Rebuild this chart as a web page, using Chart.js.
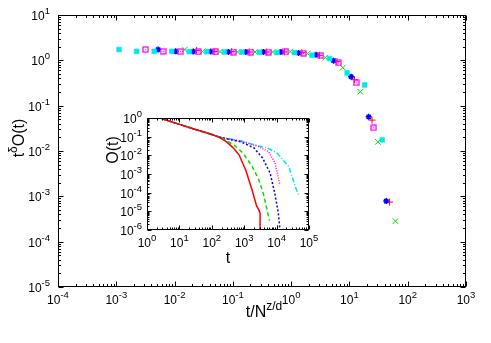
<!DOCTYPE html>
<html>
<head>
<meta charset="utf-8">
<script src="https://cdn.jsdelivr.net/npm/chart.js@4.4.1/dist/chart.umd.min.js"></script>
<style>
  html, body { margin: 0; padding: 0; background: #fff; }
  #wrap { position: relative; width: 491px; height: 343px; }
  #wrap canvas { position: absolute; left: 0; top: 0; }
</style>
</head>
<body>
<div id="wrap">
  <canvas id="main" width="491" height="343"></canvas>
  <canvas id="inset" width="491" height="343"></canvas>
</div>
<script>
// main panel: t^delta O(t) against t/N^(z/d), one series per system size
const redX = [0.02388, 0.04775, 0.0955, 0.191, 0.382, 0.764, 1.528, 3.055, 6.11, 12.22, 24.4, 48.9];
const redY = [1.66, 1.56, 1.56, 1.53, 1.53, 1.53, 1.48, 1.29, 0.935, 0.374, 0.048, 0.000748];
const greenX = [0.01503, 0.03006, 0.0601, 0.1202, 0.2405, 0.481, 0.962, 1.923, 3.846, 7.69, 15.38, 30.8, 61.5];
const greenY = [1.73, 1.56, 1.56, 1.53, 1.53, 1.52, 1.56, 1.41, 1.15, 0.69, 0.203, 0.0159, 0.000284];
const blueX = [0.005224, 0.01045, 0.0209, 0.0418, 0.0836, 0.1671, 0.3342, 0.668, 1.337, 2.673, 5.35, 10.69, 21.4, 42.8];
const blueY = [1.73, 1.58, 1.56, 1.56, 1.53, 1.53, 1.53, 1.53, 1.46, 1.32, 0.984, 0.435, 0.0568, 0.000787];
const magentaX = [0.003177, 0.00635, 0.0127, 0.0254, 0.0508, 0.1016, 0.2032, 0.4064, 0.8128, 1.626, 3.251, 6.5, 13.0, 26.0];
const magentaY = [1.73, 1.58, 1.56, 1.53, 1.53, 1.52, 1.52, 1.52, 1.53, 1.43, 1.27, 0.875, 0.321, 0.0325];
const cyanX = [0.001117, 0.002234, 0.004467, 0.00893, 0.01786, 0.0357, 0.0714, 0.1429, 0.2858, 0.5715, 1.143, 2.286, 4.571, 9.14, 18.28, 36.56];
const cyanY = [1.73, 1.58, 1.58, 1.58, 1.56, 1.56, 1.53, 1.52, 1.5, 1.48, 1.48, 1.29, 1.09, 0.526, 0.286, 0.0176];

// inset: O(t) against t
const redT = [2.9, 10, 31.6, 100, 200, 288, 457, 692, 1122, 1778, 2399, 2884, 3090, 3090];
const redO = [0.91, 0.457, 0.24, 0.132, 0.079, 0.0525, 0.0251, 0.0107, 0.00158, 0.000126, 0.00002, 0.0000112, 0.0000079, 0.0000003];
const greenT = [2.9, 10, 31.6, 100, 200, 457, 891, 1778, 2818, 3981, 5012, 6026];
const greenO = [0.91, 0.457, 0.24, 0.132, 0.089, 0.038, 0.0141, 0.0025, 0.0005, 0.000079, 0.0000126, 0.0000032];
const blueT = [2.9, 10, 31.6, 100, 200, 794, 1995, 3715, 6310, 8710, 11220, 12880];
const blueO = [0.91, 0.457, 0.24, 0.132, 0.089, 0.0525, 0.0251, 0.0071, 0.00112, 0.0001, 0.0000089, 0.0000008];
const magentaT = [2.9, 10, 31.6, 100, 200, 794, 2512, 5623, 8913, 10715, 12590];
const magentaO = [0.91, 0.457, 0.24, 0.132, 0.089, 0.0575, 0.0316, 0.0158, 0.00398, 0.001, 0.000263];
const cyanT = [2.9, 10, 31.6, 100, 200, 794, 1585, 5012, 10000, 23990, 28180, 38020, 47860];
const cyanO = [0.91, 0.457, 0.24, 0.132, 0.089, 0.06, 0.0417, 0.0251, 0.0141, 0.0025, 0.001, 0.0002, 0.000072];

// tick labels are 10^exp
const mainXExp = [-4, -3, -2, -1, 0, 1, 2, 3];
const mainYExp = [-5, -4, -3, -2, -1, 0, 1];
const insetXExp = [0, 1, 2, 3, 4, 5];
const insetYExp = [-6, -5, -4, -3, -2, -1, 0];

const FONT = '"Liberation Sans", Arial, Helvetica, sans-serif';
const RED = "#ff0000", GREEN = "#00dd00", BLUE = "#0000ff", MAGENTA = "#ff00ff", CYAN = "#00e8e8";

function pts(xs, ys) {
  return xs.map((x, i) => ({ x: x, y: ys[i] }));
}

// open square with a dot in the middle
function boxDot(color) {
  const c = document.createElement("canvas");
  c.width = 7; c.height = 7;
  const g = c.getContext("2d");
  g.strokeStyle = color;
  g.lineWidth = 1.3;
  g.strokeRect(1, 1, 5, 5);
  g.fillStyle = color;
  g.fillRect(3, 3, 1, 1);
  return c;
}

// draw text pieces, some raised as superscripts
function rich(ctx, parts, x, y, align, size, supSize, rise) {
  let w = 0;
  parts.forEach(p => {
    ctx.font = (p.sup ? supSize : size) + "px " + FONT;
    p.w = ctx.measureText(p.t).width;
    w += p.w;
  });
  let cx = align === "center" ? x - w / 2 : align === "right" ? x - w : x;
  ctx.textAlign = "left";
  ctx.textBaseline = "alphabetic";
  parts.forEach(p => {
    ctx.font = (p.sup ? supSize : size) + "px " + FONT;
    ctx.fillText(p.t, cx, p.sup ? y - rise : y);
    cx += p.w;
  });
}

function pow10(e) {
  return [{ t: "10" }, { t: String(e), sup: true }];
}

// gnuplot style frame: box, inward ticks on all four sides, labels, titles
function framePlugin(o) {
  return {
    id: "frame",
    afterDraw(chart) {
      const ctx = chart.ctx;
      const a = chart.chartArea;
      const xs = chart.scales.x, ys = chart.scales.y;
      const L = Math.round(a.left) + 0.5, R = Math.round(a.right) - 0.5;
      const T = Math.round(a.top) + 0.5, B = Math.round(a.bottom) - 0.5;
      ctx.save();
      ctx.strokeStyle = "#000";
      ctx.lineWidth = 1;
      ctx.strokeRect(L, T, R - L, B - T);
      ctx.beginPath();
      for (let e = o.xExp[0]; e <= o.xExp[o.xExp.length - 1]; e++) {
        for (let m = 1; m <= 9; m++) {
          const v = m * Math.pow(10, e);
          if (v > xs.max * 1.0001) break;
          const p = Math.round(xs.getPixelForValue(v)) + 0.5;
          const len = m === 1 ? o.major : o.minor;
          ctx.moveTo(p, B); ctx.lineTo(p, B - len);
          ctx.moveTo(p, T); ctx.lineTo(p, T + len);
        }
      }
      for (let e = o.yExp[0]; e <= o.yExp[o.yExp.length - 1]; e++) {
        for (let m = 1; m <= 9; m++) {
          const v = m * Math.pow(10, e);
          if (v > ys.max * 1.0001) break;
          const p = Math.round(ys.getPixelForValue(v)) + 0.5;
          const len = m === 1 ? o.major : o.minor;
          ctx.moveTo(L, p); ctx.lineTo(L + len, p);
          ctx.moveTo(R, p); ctx.lineTo(R - len, p);
        }
      }
      ctx.stroke();

      ctx.fillStyle = "#000";
      o.xExp.forEach(e => {
        const p = xs.getPixelForValue(Math.pow(10, e));
        rich(ctx, pow10(e), p, a.bottom + o.xLabDy, "center", 12, 9.5, 6);
      });
      o.yExp.forEach(e => {
        const p = ys.getPixelForValue(Math.pow(10, e));
        rich(ctx, pow10(e), a.left - o.yLabDx, p + 5, "right", 12, 9.5, 6);
      });

      rich(ctx, o.xTitle, o.xTitleAt[0], o.xTitleAt[1], "center", o.titleSize, 12, 7);
      ctx.translate(o.yTitleAt[0], o.yTitleAt[1]);
      ctx.rotate(-Math.PI / 2);
      rich(ctx, o.yTitle, 0, 0, "center", o.titleSize, 12, 7);
      ctx.restore();
    }
  };
}

function baseOptions(xMin, xMax, yMin, yMax, pad) {
  return {
    responsive: false,
    animation: false,
    events: [],
    layout: { padding: pad },
    plugins: { legend: { display: false }, tooltip: { enabled: false } },
    scales: {
      x: { type: "logarithmic", display: false, min: xMin, max: xMax },
      y: { type: "logarithmic", display: false, min: yMin, max: yMax }
    }
  };
}

const markers = { showLine: false, pointBorderWidth: 1 };

new Chart(document.getElementById("main"), {
  type: "scatter",
  data: {
    datasets: [
      { ...markers, data: pts(redX, redY), pointStyle: "cross", pointRadius: 3.5, borderColor: RED, backgroundColor: RED, order: 4 },
      { ...markers, data: pts(greenX, greenY), pointStyle: "crossRot", pointRadius: 4, borderColor: GREEN, backgroundColor: GREEN, order: 3 },
      { ...markers, data: pts(blueX, blueY), pointStyle: "star", pointRadius: 3, pointBorderWidth: 1.5, borderColor: BLUE, backgroundColor: BLUE, order: 2 },
      { ...markers, data: pts(magentaX, magentaY), pointStyle: boxDot(MAGENTA), borderColor: MAGENTA, backgroundColor: MAGENTA, order: 1 },
      { ...markers, data: pts(cyanX, cyanY), pointStyle: "rect", pointRadius: 3.4, pointBorderWidth: 0.5, borderColor: CYAN, backgroundColor: CYAN, order: 0 }
    ]
  },
  options: baseOptions(1e-4, 1e3, 1e-5, 10, { left: 58, top: 15, right: 25, bottom: 56 }),
  plugins: [framePlugin({
    xExp: mainXExp, yExp: mainYExp, major: 5, minor: 2.5,
    xLabDy: 17, yLabDx: 8,
    titleSize: 16,
    xTitle: [{ t: "t/N" }, { t: "z/d", sup: true }], xTitleAt: [264, 317],
    yTitle: [{ t: "t" }, { t: "δ", sup: true }, { t: "O(t)" }], yTitleAt: [24, 138]
  })]
});

const curve = { showLine: true, pointRadius: 0, borderWidth: 1.5, fill: false, tension: 0 };

new Chart(document.getElementById("inset"), {
  type: "scatter",
  data: {
    datasets: [
      { ...curve, data: pts(redT, redO), borderColor: RED },
      { ...curve, data: pts(greenT, greenO), borderColor: GREEN, borderDash: [4, 3] },
      { ...curve, data: pts(blueT, blueO), borderColor: BLUE, borderDash: [2, 2] },
      { ...curve, data: pts(magentaT, magentaO), borderColor: MAGENTA, borderDash: [1, 1.5] },
      { ...curve, data: pts(cyanT, cyanO), borderColor: CYAN, borderDash: [5, 2, 1, 2] }
    ]
  },
  options: baseOptions(1, 1e5, 1e-6, 1, { left: 147, top: 118, right: 182, bottom: 113 }),
  plugins: [framePlugin({
    xExp: insetXExp, yExp: insetYExp, major: 4, minor: 2,
    xLabDy: 17, yLabDx: 5,
    titleSize: 16,
    xTitle: [{ t: "t" }], xTitleAt: [228, 263],
    yTitle: [{ t: "O(t)" }], yTitleAt: [118, 150]
  })]
});
</script>
</body>
</html>
